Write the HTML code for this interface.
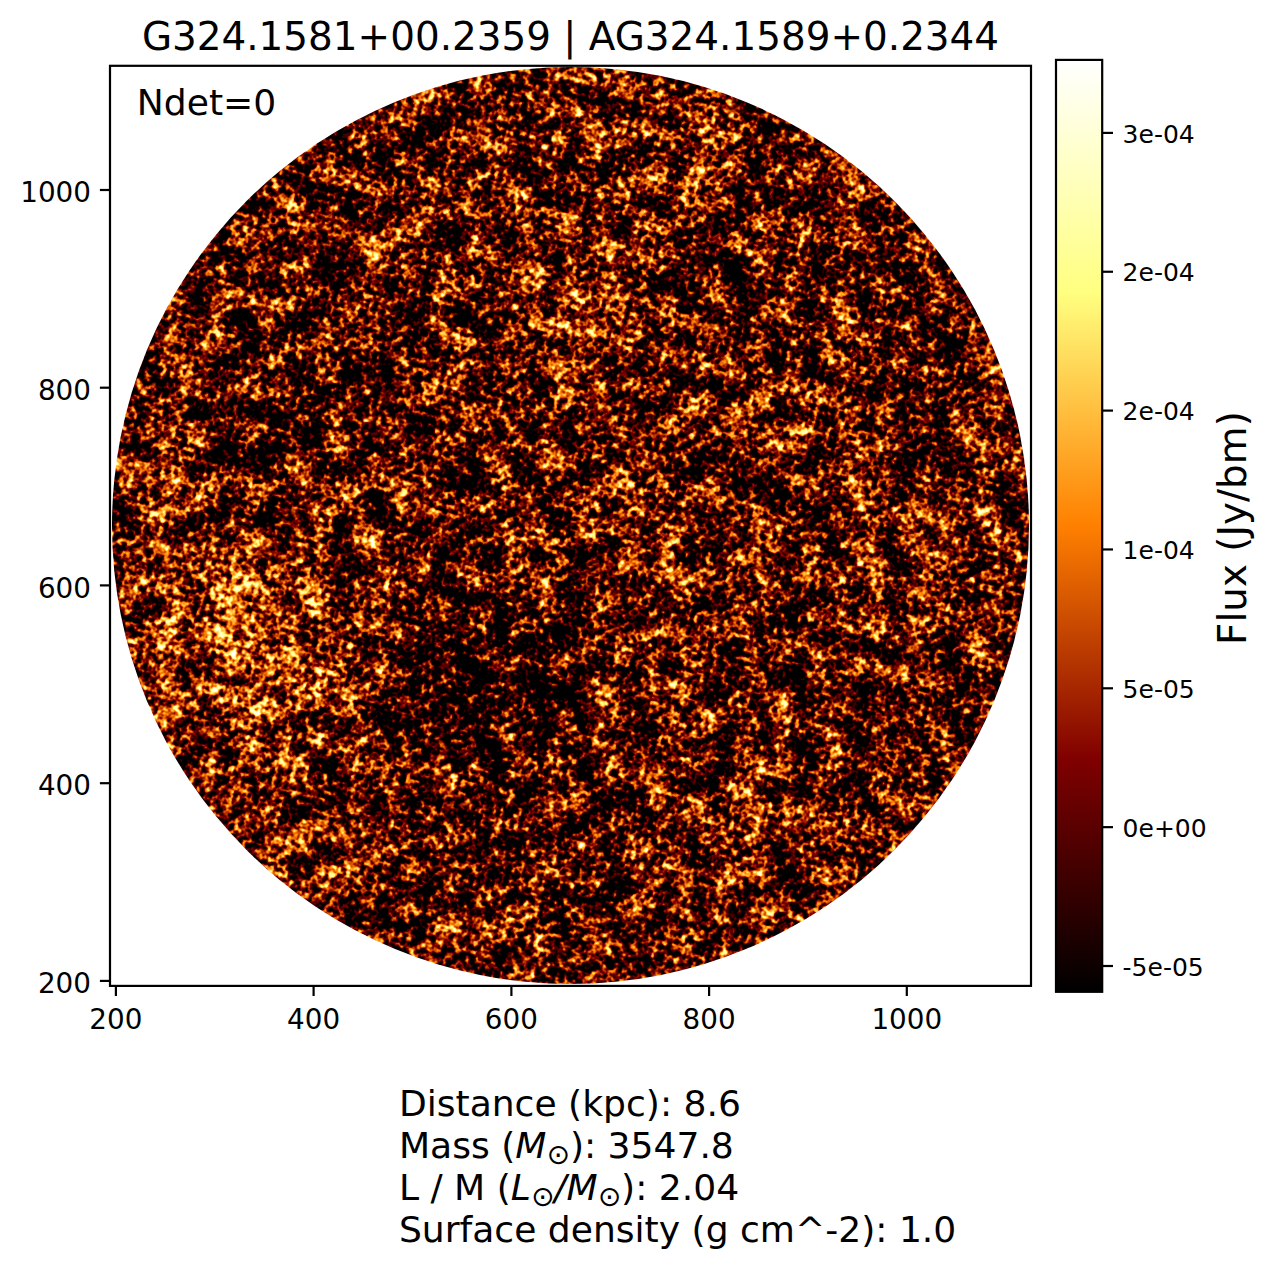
<!DOCTYPE html>
<html lang="en"><head><meta charset="utf-8"><title>G324.1581+00.2359 | AG324.1589+0.2344</title>
<style>html,body{margin:0;padding:0;background:#fff;overflow:hidden}svg{display:block}text{font-family:"DejaVu Sans", "Liberation Sans", sans-serif;fill:#000}</style></head><body>
<svg width="1274" height="1267" viewBox="0 0 1274 1267">
<defs>
<linearGradient id="cb" x1="0" y1="1" x2="0" y2="0"><stop offset="0" stop-color="#000000"/><stop offset="0.25" stop-color="#800000"/><stop offset="0.5" stop-color="#ff8000"/><stop offset="0.75" stop-color="#ffff80"/><stop offset="1" stop-color="#ffffff"/></linearGradient>
<clipPath id="disc"><circle cx="570.5" cy="525.5" r="458.5"/></clipPath>
<filter id="noise" filterUnits="userSpaceOnUse" x="108.0" y="63.0" width="925.0" height="925.0" color-interpolation-filters="sRGB">
<feTurbulence type="fractalNoise" baseFrequency="0.17" numOctaves="2" seed="7" result="t0"/>
<feColorMatrix in="t0" type="matrix" values="1 0 0 0 0  1 0 0 0 0  1 0 0 0 0  0 0 0 0 1" result="t"/>
<feTurbulence type="fractalNoise" baseFrequency="0.04" numOctaves="2" seed="3" result="u0"/>
<feColorMatrix in="u0" type="matrix" values="1 0 0 0 0  1 0 0 0 0  1 0 0 0 0  0 0 0 0 1" result="u"/>
<feGaussianBlur in="SourceGraphic" stdDeviation="18" result="m"/>
<feComposite in="u" in2="m" operator="arithmetic" k1="0" k2="1.2" k3="1.4" k4="-0.8000" result="w"/>
<feComposite in="t" in2="w" operator="arithmetic" k1="0" k2="1.8261" k3="1" k4="-1.2530" result="v"/>
<feColorMatrix in="v" type="matrix" values="1 0 0 0 0  1 0 0 0 0  1 0 0 0 0  0 0 0 0 1" result="g"/>
<feComponentTransfer in="g"><feFuncR type="linear" slope="2" intercept="0"/><feFuncG type="linear" slope="2" intercept="-0.5"/><feFuncB type="linear" slope="2" intercept="-1"/></feComponentTransfer>
</filter>
</defs>
<rect width="1274" height="1267" fill="#fff"/>
<g clip-path="url(#disc)"><g transform="rotate(-30 570.5 525.5)"><g filter="url(#noise)">
<rect x="70.0" y="25.799999999999997" width="1001.0" height="1000.1" fill="#808080"/>
<circle cx="222.7" cy="456.9" r="95" fill="#fff" fill-opacity="0.204"/>
<circle cx="244.3" cy="469.4" r="45" fill="#fff" fill-opacity="0.110"/>
<circle cx="238.4" cy="269.7" r="55" fill="#fff" fill-opacity="0.125"/>
<circle cx="148.7" cy="645.1" r="55" fill="#fff" fill-opacity="0.110"/>
<circle cx="691.5" cy="335.0" r="60" fill="#fff" fill-opacity="0.157"/>
<circle cx="878.4" cy="281.2" r="55" fill="#fff" fill-opacity="0.110"/>
<circle cx="810.8" cy="548.2" r="35" fill="#fff" fill-opacity="0.141"/>
<circle cx="844.5" cy="660.0" r="30" fill="#fff" fill-opacity="0.110"/>
<circle cx="643.3" cy="578.5" r="50" fill="#fff" fill-opacity="0.110"/>
<circle cx="584.9" cy="879.6" r="45" fill="#fff" fill-opacity="0.110"/>
<circle cx="792.1" cy="710.6" r="30" fill="#fff" fill-opacity="0.094"/>
<circle cx="903.1" cy="728.5" r="60" fill="#fff" fill-opacity="0.063"/>
<circle cx="442.5" cy="616.2" r="20" fill="#fff" fill-opacity="0.110"/>
<circle cx="405.7" cy="394.0" r="25" fill="#fff" fill-opacity="0.094"/>
<circle cx="634.6" cy="163.5" r="35" fill="#fff" fill-opacity="0.063"/>
<circle cx="575.1" cy="706.6" r="30" fill="#fff" fill-opacity="0.063"/>
<circle cx="470.3" cy="138.0" r="35" fill="#fff" fill-opacity="0.063"/>
<circle cx="404.9" cy="631.4" r="95" fill="#000" fill-opacity="0.188"/>
<circle cx="416.5" cy="811.3" r="55" fill="#000" fill-opacity="0.110"/>
<circle cx="340.7" cy="282.5" r="60" fill="#000" fill-opacity="0.110"/>
<circle cx="438.6" cy="292.9" r="60" fill="#000" fill-opacity="0.110"/>
<circle cx="482.7" cy="156.7" r="45" fill="#000" fill-opacity="0.094"/>
<circle cx="636.6" cy="130.1" r="40" fill="#000" fill-opacity="0.078"/>
<circle cx="843.2" cy="382.2" r="45" fill="#000" fill-opacity="0.110"/>
<circle cx="984.8" cy="487.0" r="65" fill="#000" fill-opacity="0.094"/>
<circle cx="933.9" cy="625.0" r="55" fill="#000" fill-opacity="0.094"/>
<circle cx="735.7" cy="568.3" r="35" fill="#000" fill-opacity="0.094"/>
<circle cx="500.8" cy="421.2" r="45" fill="#000" fill-opacity="0.094"/>
<circle cx="689.0" cy="749.2" r="60" fill="#000" fill-opacity="0.078"/>
<circle cx="777.8" cy="875.5" r="50" fill="#000" fill-opacity="0.094"/>
<circle cx="248.6" cy="772.1" r="40" fill="#000" fill-opacity="0.063"/>
<circle cx="473.2" cy="613.1" r="60" fill="#000" fill-opacity="0.078"/>
<circle cx="257.7" cy="546.4" r="60" fill="#fff" fill-opacity="0.094"/>
<circle cx="215.1" cy="360.1" r="50" fill="#fff" fill-opacity="0.078"/>
</g></g></g>
<rect x="110.0" y="65.8" width="921.0" height="920.1" fill="none" stroke="#000" stroke-width="2.2"/>
<g stroke="#000" stroke-width="2.2">
<line x1="115.9" y1="985.9" x2="115.9" y2="996.0"/>
<line x1="313.6" y1="985.9" x2="313.6" y2="996.0"/>
<line x1="511.4" y1="985.9" x2="511.4" y2="996.0"/>
<line x1="709.1" y1="985.9" x2="709.1" y2="996.0"/>
<line x1="906.8" y1="985.9" x2="906.8" y2="996.0"/>
<line x1="110.0" y1="980.9" x2="99.9" y2="980.9"/>
<line x1="110.0" y1="783.2" x2="99.9" y2="783.2"/>
<line x1="110.0" y1="585.4" x2="99.9" y2="585.4"/>
<line x1="110.0" y1="387.7" x2="99.9" y2="387.7"/>
<line x1="110.0" y1="190.0" x2="99.9" y2="190.0"/>
</g>
<g font-size="27.8px">
<text x="115.9" y="1029.2" text-anchor="middle">200</text>
<text x="313.6" y="1029.2" text-anchor="middle">400</text>
<text x="511.4" y="1029.2" text-anchor="middle">600</text>
<text x="709.1" y="1029.2" text-anchor="middle">800</text>
<text x="906.8" y="1029.2" text-anchor="middle">1000</text>
<text x="91.0" y="993.0" text-anchor="end">200</text>
<text x="91.0" y="795.3" text-anchor="end">400</text>
<text x="91.0" y="597.5" text-anchor="end">600</text>
<text x="91.0" y="399.8" text-anchor="end">800</text>
<text x="91.0" y="202.1" text-anchor="end">1000</text>
</g>
<text x="570.5" y="49.7" font-size="38.9px" text-anchor="middle">G324.1581+00.2359 | AG324.1589+0.2344</text>
<text x="136.8" y="114.8" font-size="36.1px">Ndet=0</text>
<rect x="1056.0" y="59.9" width="46.200000000000045" height="931.9" fill="url(#cb)" stroke="#000" stroke-width="2.2"/>
<g stroke="#000" stroke-width="2.2">
<line x1="1102.2" y1="132.9" x2="1113.0" y2="132.9"/>
<line x1="1102.2" y1="271.75" x2="1113.0" y2="271.75"/>
<line x1="1102.2" y1="410.6" x2="1113.0" y2="410.6"/>
<line x1="1102.2" y1="549.45" x2="1113.0" y2="549.45"/>
<line x1="1102.2" y1="688.3" x2="1113.0" y2="688.3"/>
<line x1="1102.2" y1="827.15" x2="1113.0" y2="827.15"/>
<line x1="1102.2" y1="966.0" x2="1113.0" y2="966.0"/>
</g>
<g font-size="25px">
<text x="1122.6" y="142.5">3e-04</text>
<text x="1122.6" y="281.4">2e-04</text>
<text x="1122.6" y="420.2">2e-04</text>
<text x="1122.6" y="559.1">1e-04</text>
<text x="1122.6" y="697.9">5e-05</text>
<text x="1122.6" y="836.8">0e+00</text>
<text x="1122.6" y="975.6">-5e-05</text>
</g>
<text transform="translate(1245.7,644.9) rotate(-90)" font-size="38.9px">Flux (Jy/bm)</text>
<g font-size="36.1px">
<text x="398.9" y="1116">Distance (kpc): 8.6</text>
<text x="398.9" y="1157.9">Mass (<tspan font-style="italic">M</tspan><tspan font-size="28px" dy="5.6" font-style="normal">⊙</tspan><tspan dy="-5.6">): 3547.8</tspan></text>
<text x="398.9" y="1199.9">L / M (<tspan font-style="italic">L</tspan><tspan font-size="28px" dy="5.6" font-style="normal">⊙</tspan><tspan dy="-5.6" font-style="italic">/M</tspan><tspan font-size="28px" dy="5.6" font-style="normal">⊙</tspan><tspan dy="-5.6">): 2.04</tspan></text>
<text x="398.9" y="1241.6">Surface density (g cm^-2): 1.0</text>
</g>
</svg></body></html>
